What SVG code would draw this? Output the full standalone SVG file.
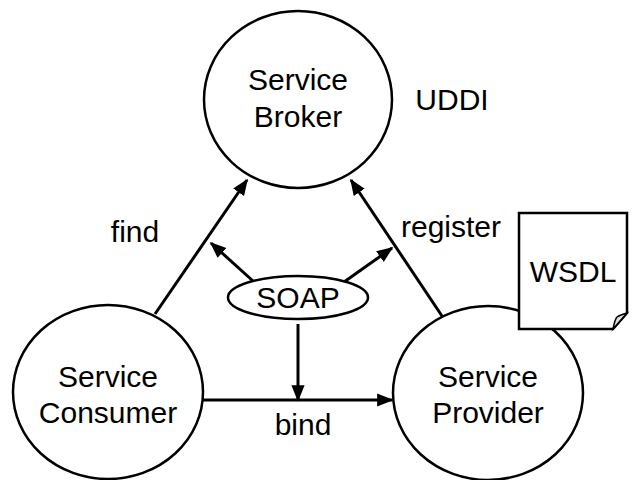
<svg xmlns="http://www.w3.org/2000/svg" width="634" height="480" viewBox="0 0 634 480">
<style>
.n{fill:#fff;stroke:#000;stroke-width:2.5}
.t{font-family:"Liberation Sans",Arial,sans-serif;font-size:30px;fill:#000;text-anchor:middle}
.c{fill:none;stroke:#000;stroke-width:3;marker-end:url(#ah)}
</style>
<defs>
<marker id="ah" viewBox="0 0 10 10" refX="9" refY="5" markerWidth="5.5" markerHeight="5.5" orient="auto" markerUnits="strokeWidth">
<path d="M0,1 L10,5 L0,9 z" fill="#000"/>
</marker>
</defs>
<rect width="634" height="480" fill="#fff"/>
<g id="connectors">
<line class="c" x1="155" y1="314" x2="247" y2="180"/>
<line class="c" x1="442" y1="316" x2="351" y2="180"/>
<line class="c" x1="203" y1="400" x2="392" y2="400"/>
<line class="c" x1="253" y1="281" x2="211" y2="243"/>
<line class="c" x1="344" y1="282" x2="392" y2="248"/>
<line class="c" x1="298" y1="324" x2="298" y2="400"/>
</g>
<g id="broker">
<ellipse class="n" cx="298" cy="99.5" rx="94" ry="88.5"/>
<text class="t" x="298" y="90">Service</text>
<text class="t" x="298" y="127">Broker</text>
</g>
<g id="consumer">
<ellipse class="n" cx="108" cy="392" rx="95" ry="87"/>
<text class="t" x="108" y="387">Service</text>
<text class="t" x="108" y="423">Consumer</text>
</g>
<g id="provider">
<ellipse class="n" cx="488" cy="393" rx="95" ry="87"/>
<text class="t" x="488" y="387">Service</text>
<text class="t" x="488" y="423">Provider</text>
</g>
<g id="soap">
<ellipse class="n" cx="298" cy="297.5" rx="70" ry="21.5"/>
<text class="t" x="298" y="308">SOAP</text>
</g>
<g id="wsdl">
<path d="M519,213 H627 V313 L613,329 H519 Z" fill="#fff" stroke="#000" stroke-width="2.5"/>
<path d="M627,313 L613,329 Q615,319 617,317 Q620,315 627,313 Z" fill="#ddd" stroke="#000" stroke-width="1.5"/>
<text class="t" x="573" y="282">WSDL</text>
</g>
<g id="labels">
<text class="t" x="452" y="110">UDDI</text>
<text class="t" x="135" y="242">find</text>
<text class="t" x="451" y="237">register</text>
<text class="t" x="303" y="435">bind</text>
</g>
</svg>
